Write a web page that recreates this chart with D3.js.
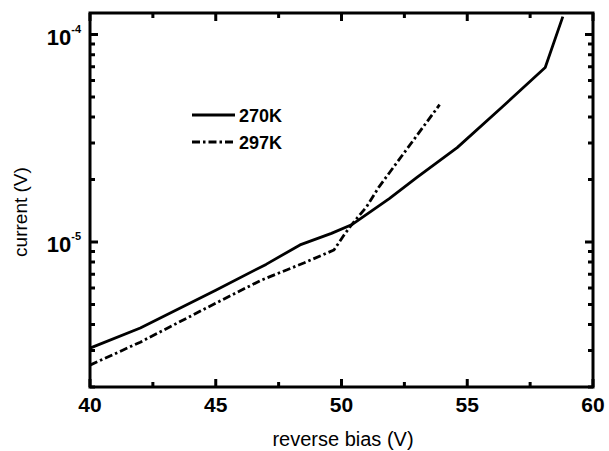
<!DOCTYPE html>
<html>
  <script src="https://cdn.jsdelivr.net/npm/d3@7"></script>
  <style>
    body{ margin: 0; background: #fff; }
    text{ font-family: "Liberation Sans", Arial, sans-serif; fill: #000; }
  </style>
  <body>
    <script>

// values
var bias270 = [40, 42, 45, 47, 48.35, 49.6, 50.4, 51.9, 53, 54.6, 56.4, 58.1, 58.8]
  , cur270  = [3.08e-6, 3.85e-6, 5.86e-6, 7.8e-6, 9.68e-6, 1.10e-5, 1.21e-5, 1.62e-5, 2.05e-5, 2.85e-5, 4.49e-5, 6.93e-5, 1.22e-4]
  , bias297 = [40, 42, 45, 46.8, 48.5, 49.7, 50.1, 50.4, 51.0, 51.5, 53.9]
  , cur297  = [2.55e-6, 3.29e-6, 5.07e-6, 6.54e-6, 7.92e-6, 9.15e-6, 1.08e-5, 1.21e-5, 1.48e-5, 1.85e-5, 4.59e-5]
  , xMajor = [40, 45, 50, 55, 60]
  , xMinor = [42.5, 47.5, 52.5, 57.5]
  , yMajor = [1e-5, 1e-4]
  , yMinor = [2e-6, 3e-6, 4e-6, 5e-6, 6e-6, 7e-6, 8e-6, 9e-6, 2e-5, 3e-5, 4e-5, 5e-5, 6e-5, 7e-5, 8e-5, 9e-5]
  , series = ['270K', '297K']

// note: "top" is taken by window.top, so plot edges get a prefix
var W = 609, H = 451
  , pLeft = 90, pRight = 593, pTop = 13, pBottom = 387

var svg = d3.select('body').append('svg').attr('width', W).attr('height', H)

var x = d3.scaleLinear().domain([40, 60]).range([pLeft, pRight])
  , y = d3.scaleLog().domain([2e-6, 1.27e-4]).range([pBottom, pTop])

// curves
var line = d3.line().x(function(d){ return x(d[0]) }).y(function(d){ return y(d[1]) })
  , dash = [null, '8,3,2.5,3']
  , data = [d3.zip(bias270, cur270), d3.zip(bias297, cur297)]

svg.selectAll('.curve').data(data).enter().append('path')
  .attr('d', line).attr('fill', 'none').attr('stroke', '#000').attr('stroke-width', 2.8)
  .attr('stroke-linejoin', 'round')
  .attr('stroke-dasharray', function(d, i){ return dash[i] })

svg.append('rect')
  .attr('x', pLeft).attr('y', pTop).attr('width', pRight - pLeft).attr('height', pBottom - pTop)
  .attr('fill', 'none').attr('stroke', '#000').attr('stroke-width', 3)

// inward ticks on all four sides, as one path
var tickPath = d3.path()
function xTicks(vals, len){
  vals.forEach(function(v){
    tickPath.moveTo(x(v), pBottom); tickPath.lineTo(x(v), pBottom - len)
    tickPath.moveTo(x(v), pTop); tickPath.lineTo(x(v), pTop + len)
  })
}
function yTicks(vals, len){
  vals.forEach(function(v){
    tickPath.moveTo(pLeft, y(v)); tickPath.lineTo(pLeft + len, y(v))
    tickPath.moveTo(pRight, y(v)); tickPath.lineTo(pRight - len, y(v))
  })
}
xTicks(xMajor, 8); xTicks(xMinor, 5)
yTicks(yMajor, 8); yTicks(yMinor, 5)
svg.append('path').attr('d', tickPath.toString())
  .attr('fill', 'none').attr('stroke', '#000').attr('stroke-width', 3)

// x tick labels
svg.selectAll('.xl').data(xMajor).enter().append('text')
  .attr('x', x).attr('y', 412)
  .attr('text-anchor', 'middle').attr('font-size', 21).attr('font-weight', 'bold')
  .text(function(d){ return d })

// y tick labels 10^n
var yl = svg.selectAll('.yl').data(yMajor).enter().append('text')
  .attr('x', 81).attr('y', function(d){ return y(d) + 10 })
  .attr('text-anchor', 'end').attr('font-size', 22).attr('font-weight', 'bold')
yl.append('tspan').text('10')
yl.append('tspan').attr('dy', -12).attr('font-size', 11)
  .text(function(d){ return '-' + Math.round(-Math.log10(d)) })

svg.append('text').attr('x', 343).attr('y', 446).attr('text-anchor', 'middle')
  .attr('font-size', 20).text('reverse bias (V)')

svg.append('text').attr('transform', 'translate(27,212) rotate(-90)')
  .attr('text-anchor', 'middle').attr('font-size', 19).text('current (V)')

// legend
var lg = svg.selectAll('.lg').data(series).enter().append('g')
  .attr('transform', function(d, i){ return 'translate(192,' + (115 + i * 27) + ')' })
lg.append('line').attr('x1', 0).attr('x2', 43).attr('stroke', '#000').attr('stroke-width', 2.8)
  .attr('stroke-dasharray', function(d, i){ return dash[i] })
lg.append('text').attr('x', 47).attr('y', 7).attr('font-size', 18).attr('font-weight', 'bold')
  .text(function(d){ return d })

    </script>
  </body>
</html>
